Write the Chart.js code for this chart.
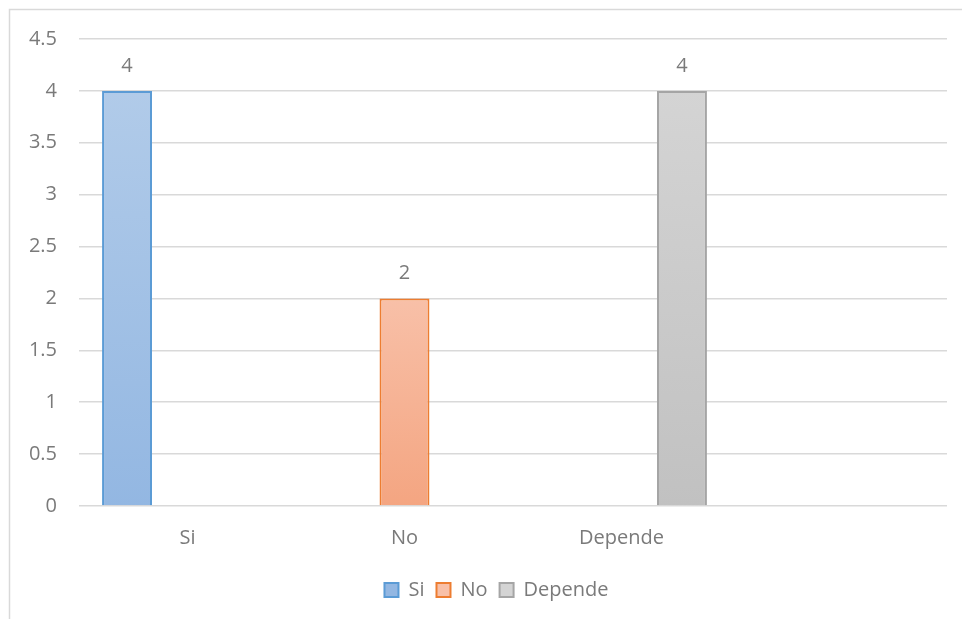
<!DOCTYPE html>
<html>
<head>
<meta charset="utf-8">
<script src="https://cdn.jsdelivr.net/npm/chart.js@4/dist/chart.umd.min.js"></script>
<style>
  html, body { margin: 0; padding: 0; background: #ffffff; }
  #wrap { width: 962px; height: 619px; position: relative; }
</style>
</head>
<body>
<div id="wrap"><canvas id="chart" width="962" height="619"></canvas></div>
<script>
// Categories and values
const categories = ['Si', 'No', 'Depende', ''];
const siValues = [4, null, null, null];
const noValues = [null, 2, null, null];
const dependeValues = [null, null, 4, null];
const yTickMax = 4.5;
const yTickStep = 0.5;

const TEXT = '#7a7a7a';
const GRID = '#d9d9d9';

Chart.defaults.font.family = "'Open Sans', 'DejaVu Sans', sans-serif";
Chart.defaults.font.size = 20;
Chart.defaults.color = TEXT;

// vertical gradient per bar, from its top down to the baseline
function barGradient(topColor, bottomColor) {
  return (ctx) => {
    const chart = ctx.chart;
    const v = ctx.raw;
    if (!chart.chartArea || v == null) return topColor;
    const y = chart.scales.y;
    const g = chart.ctx.createLinearGradient(0, y.getPixelForValue(v), 0, y.getPixelForValue(0));
    g.addColorStop(0, topColor);
    g.addColorStop(1, bottomColor);
    return g;
  };
}

// light frame along the top and left edges
const framePlugin = {
  id: 'frame',
  beforeDraw(chart) {
    const c = chart.ctx;
    c.save();
    c.strokeStyle = GRID;
    c.lineWidth = 1.5;
    c.beginPath();
    c.moveTo(9.5, chart.height);
    c.lineTo(9.5, 9.5);
    c.lineTo(chart.width, 9.5);
    c.stroke();
    c.restore();
  }
};

// the frame runs past the right edge, so the legend sits centred on the wider frame
const legendShift = {
  id: 'legendShift',
  afterLayout(chart) {
    const lg = chart.legend;
    if (lg) { lg.left += 18; lg.right += 18; }
  }
};

// value labels above each bar
const valueLabels = {
  id: 'valueLabels',
  afterDatasetsDraw(chart) {
    const c = chart.ctx;
    c.save();
    c.fillStyle = TEXT;
    c.font = "20px 'Open Sans', sans-serif";
    c.textAlign = 'center';
    c.textBaseline = 'middle';
    chart.data.datasets.forEach((ds, i) => {
      const meta = chart.getDatasetMeta(i);
      meta.data.forEach((bar, j) => {
        const v = ds.data[j];
        if (v == null) return;
        c.fillText(String(v), bar.x, bar.y - 25);
      });
    });
    c.restore();
  }
};

new Chart(document.getElementById('chart'), {
  type: 'bar',
  data: {
    labels: categories,
    datasets: [
      {
        label: 'Si',
        data: siValues,
        backgroundColor: barGradient('#b1cbe9', '#93b7e2'),
        borderColor: '#5b9bd5',
        borderWidth: 2
      },
      {
        label: 'No',
        data: noValues,
        backgroundColor: barGradient('#f8c0a8', '#f4a581'),
        borderColor: '#ed7d31',
        borderWidth: 2
      },
      {
        label: 'Depende',
        data: dependeValues,
        backgroundColor: barGradient('#d4d4d4', '#c1c1c1'),
        borderColor: '#a5a5a5',
        borderWidth: 2
      }
    ]
  },
  options: {
    responsive: false,
    animation: false,
    categoryPercentage: 0.836,
    barPercentage: 0.826,
    layout: { padding: { left: 10, right: 15, top: 39, bottom: 9 } },
    scales: {
      x: {
        grid: { display: false },
        border: { display: false },
        ticks: { color: TEXT, padding: 12, maxRotation: 0 },
        afterFit(scale) { scale.height = 62; }
      },
      y: {
        min: 0,
        max: yTickMax,
        ticks: {
          stepSize: yTickStep,
          color: TEXT,
          padding: 22,
          callback: (v) => String(v)
        },
        grid: { color: GRID, lineWidth: 1.5, drawTicks: false },
        border: { display: false },
        afterFit(scale) { scale.width = 69; }
      }
    },
    plugins: {
      legend: {
        position: 'bottom',
        labels: {
          boxWidth: 14,
          boxHeight: 14,
          padding: 12,
          color: TEXT,
          font: { size: 20 }
        }
      },
      tooltip: { enabled: false }
    }
  },
  plugins: [framePlugin, legendShift, valueLabels]
});
</script>
</body>
</html>
